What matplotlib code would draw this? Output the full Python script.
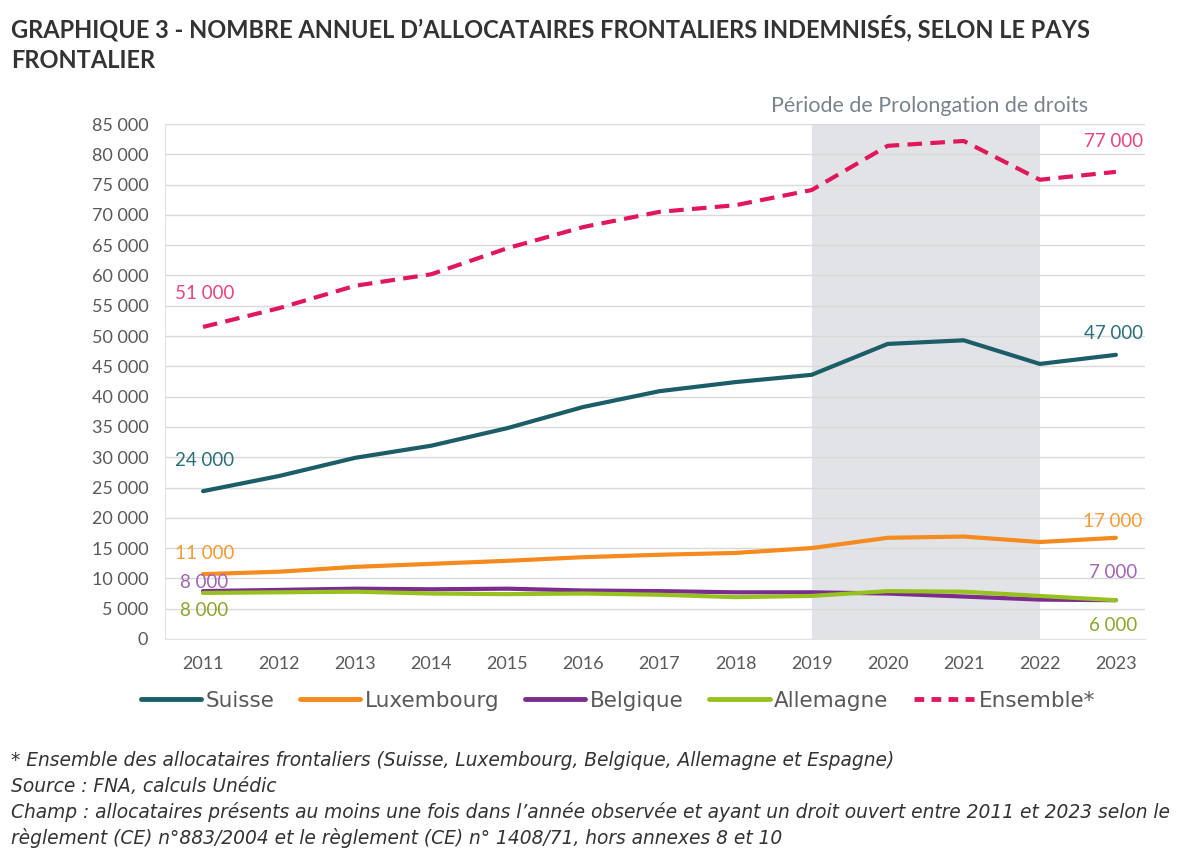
import matplotlib
matplotlib.use("Agg")
import matplotlib.pyplot as plt
from matplotlib.lines import Line2D
from matplotlib.ticker import FuncFormatter

years = list(range(2011, 2024))
suisse = [24400, 26900, 29900, 31900, 34800, 38300, 40900, 42400, 43600, 48700, 49300, 45400, 46900]
luxembourg = [10700, 11100, 11900, 12400, 12900, 13500, 13900, 14200, 15000, 16700, 16900, 16000, 16700]
belgique = [7900, 8100, 8300, 8200, 8300, 8000, 7900, 7700, 7700, 7500, 7000, 6500, 6400]
allemagne = [7600, 7700, 7800, 7500, 7400, 7500, 7300, 6900, 7100, 7900, 7800, 7100, 6400]
ensemble = [51500, 54600, 58300, 60200, 64500, 68000, 70500, 71600, 74100, 81400, 82200, 75800, 77100]

series_names = ["Suisse", "Luxembourg", "Belgique", "Allemagne", "Ensemble*"]
first_labels = ["24 000", "11 000", "8 000", "8 000", "51 000"]
last_labels = ["47 000", "17 000", "7 000", "6 000", "77 000"]

period_start, period_end = 2019, 2022

line_colors = ["#1b5e67", "#f58a1f", "#7b2d8e", "#97c11f", "#e0185a"]
label_colors = ["#2b6f7a", "#f59a35", "#a265b5", "#8aa52d", "#e8457a"]
# label offsets in points (first, last)
first_off = [22, 15, 6, -13, 24]
last_off = [15, 12, 20, -18, 22]

FONT = "Lato"

fig = plt.figure(figsize=(12, 8.63), dpi=100)
ax = fig.add_axes([0.1375, 0.2596, 0.8165, 0.5967])

ax.axvspan(period_start, period_end, color="#e2e3e6", zorder=0, lw=0)

data = [suisse, luxembourg, belgique, allemagne, ensemble]
for i, vals in enumerate(data):
    if i == 4:
        ax.plot(years, vals, color=line_colors[i], lw=3, dashes=(3.5, 2), zorder=3)
    else:
        ax.plot(years, vals, color=line_colors[i], lw=3, zorder=3 + (i == 3) * 0.5,
                solid_capstyle="round")
    ax.annotate(first_labels[i], (years[0], vals[0]), xytext=(1, first_off[i]),
                textcoords="offset points", ha="center", va="center",
                color=label_colors[i], fontsize=13.5, family=FONT)
    ax.annotate(last_labels[i], (years[-1], vals[-1]), xytext=(-2, last_off[i]),
                textcoords="offset points", ha="center", va="center",
                color=label_colors[i], fontsize=13.5, family=FONT)

ax.set_xlim(2010.5, 2023.38)
ax.set_ylim(0, 85000)
ax.set_yticks(range(0, 85001, 5000))
ax.set_xticks(years)
ax.yaxis.set_major_formatter(FuncFormatter(lambda v, p: f"{int(v):,}".replace(",", " ")))
ax.grid(axis="y", color="#d9d9d9", lw=1)
ax.set_axisbelow(True)
for s in ["top", "right"]:
    ax.spines[s].set_visible(False)
for s in ["left", "bottom"]:
    ax.spines[s].set_color("#e3e3e3")
ax.tick_params(length=0, labelsize=13, labelcolor="#595959", pad=12)
ax.tick_params(axis="x", pad=12)
for lab in ax.get_xticklabels() + ax.get_yticklabels():
    lab.set_family(FONT)

ax.text((period_start + period_end) / 2 + 0.05, 1.035, "Période de Prolongation de droits",
        transform=ax.get_xaxis_transform(), ha="center", va="center",
        fontsize=15.5, color="#7a828b", family=FONT)

handles = []
for i, name in enumerate(series_names):
    if i == 4:
        handles.append(Line2D([], [], color=line_colors[i], lw=3.5, dashes=(2, 1.5)))
    else:
        handles.append(Line2D([], [], color=line_colors[i], lw=3.5, solid_capstyle="round"))
leg = fig.legend(handles, series_names, loc="center", bbox_to_anchor=(0.515, 0.188),
                 ncol=5, frameon=False, handlelength=2.8, handletextpad=0.2,
                 columnspacing=1.2, prop={"family": "DejaVu Sans", "size": 15.5})
for t in leg.get_texts():
    t.set_color("#595959")

fig.text(0.009, 0.967, "GRAPHIQUE 3 - NOMBRE ANNUEL D\u2019ALLOCATAIRES FRONTALIERS INDEMNISÉS, SELON LE PAYS",
         ha="left", va="center", fontsize=17, weight="bold", color="#333333", family=FONT)
fig.text(0.009, 0.930, "FRONTALIER", ha="left", va="center", fontsize=17,
         weight="bold", color="#333333", family=FONT)

notes = [
    "* Ensemble des allocataires frontaliers (Suisse, Luxembourg, Belgique, Allemagne et Espagne)",
    "Source : FNA, calculs Unédic",
    "Champ : allocataires présents au moins une fois dans l\u2019année observée et ayant un droit ouvert entre 2011 et 2023 selon le",
    "règlement (CE) n°883/2004 et le règlement (CE) n° 1408/71, hors annexes 8 et 10",
]
for k, note in enumerate(notes):
    fig.text(0.009, 1 - (760 + 26 * k) / 863, note, ha="left", va="center",
             fontsize=13.4, style="italic", color="#333333", family="DejaVu Sans")

fig.savefig("out.png", dpi=100, facecolor="white")
